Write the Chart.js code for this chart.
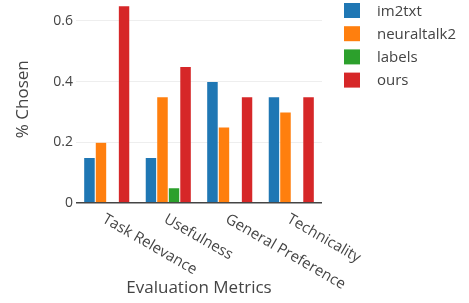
<!DOCTYPE html>
<html>
<head>
<meta charset="utf-8">
<script src="https://cdn.jsdelivr.net/npm/chart.js@4"></script>
<style>
  html, body { margin: 0; padding: 0; background: #fff; }
  #wrap { width: 469px; height: 303px; position: relative; overflow: hidden; }
  #chart { position: absolute; left: 0; top: -16px; }
</style>
</head>
<body>
<div id="wrap"><canvas id="chart" width="469" height="319"></canvas></div>
<script>
var categories = ["Task Relevance", "Usefulness", "General Preference", "Technicality"];
var seriesNames = ["im2txt", "neuraltalk2", "labels", "ours"];
var im2txt = [0.15, 0.15, 0.40, 0.35];
var neuraltalk2 = [0.20, 0.35, 0.25, 0.30];
var labels = [0, 0.05, 0, 0];
var ours = [0.65, 0.45, 0.35, 0.35];
var yTicks = [0, 0.2, 0.4, 0.6];
var colors = ["#1f77b4", "#ff7f0e", "#2ca02c", "#d62728"];

var FONT = "'Open Sans', Verdana, Arial, sans-serif";
var TEXT = "#444";
var SHIFT = 16; // canvas sits 16px above the page so the plot top is cut off like the original

// plotly-style rotated category labels, drawn from the x scale
var xLabels = {
    id: "xLabels",
    afterDraw: function (chart) {
        var ctx = chart.ctx;
        var x = chart.scales.x;
        ctx.save();
        ctx.fillStyle = TEXT;
        ctx.font = "15px " + FONT;
        ctx.textAlign = "left";
        ctx.textBaseline = "middle";
        x.ticks.forEach(function (t, i) {
            ctx.save();
            ctx.translate(x.getPixelForTick(i) - 3, x.top + 15);
            ctx.rotate(30 * Math.PI / 180);
            ctx.fillText(categories[i], 0, 0);
            ctx.restore();
        });
        ctx.restore();
    }
};

// legend at top right, plotly layout
var sideLegend = {
    id: "sideLegend",
    afterDraw: function (chart) {
        var ctx = chart.ctx;
        ctx.save();
        ctx.font = "15px " + FONT;
        ctx.textBaseline = "middle";
        chart.data.datasets.forEach(function (ds, i) {
            var cy = SHIFT + 10.5 + i * 23.2;
            ctx.fillStyle = ds.backgroundColor;
            ctx.fillRect(344, cy - 7.5, 16, 15);
            ctx.fillStyle = TEXT;
            ctx.fillText(ds.label, 377, cy + 1);
        });
        ctx.restore();
    }
};

var datasets = [im2txt, neuraltalk2, labels, ours].map(function (d, i) {
    return {
        label: seriesNames[i],
        data: d,
        backgroundColor: colors[i],
        borderColor: "rgba(255,255,255,0.35)",
        borderWidth: 0.5
    };
});

var chart = new Chart(document.getElementById("chart"), {
    type: "bar",
    data: {
        labels: categories,
        datasets: datasets
    },
    options: {
        responsive: false,
        animation: false,
        layout: {
            padding: { top: 0, right: 147, bottom: 0, left: 0 }
        },
        datasets: {
            bar: { categoryPercentage: 0.75, barPercentage: 1.0 }
        },
        scales: {
            x: {
                grid: { display: false, drawTicks: false },
                border: { display: false },
                ticks: { display: false },
                title: {
                    display: true,
                    text: "Evaluation Metrics",
                    color: TEXT,
                    font: { family: FONT, size: 17 },
                    padding: { top: 0, bottom: 5 }
                },
                afterFit: function (s) { s.height = 100; }
            },
            y: {
                min: 0,
                max: 0.684,
                afterBuildTicks: function (s) {
                    s.ticks = yTicks.map(function (v) { return { value: v }; });
                },
                grid: {
                    color: function (c) { return c.tick.value === 0 ? "#444" : "#eee"; },
                    lineWidth: function (c) { return c.tick.value === 0 ? 1.5 : 1; },
                    drawTicks: false
                },
                border: { display: false },
                ticks: {
                    color: TEXT,
                    padding: 3,
                    font: { family: FONT, size: 14 },
                    callback: function (v) { return v === 0 ? "0" : v.toFixed(1); }
                },
                title: {
                    display: true,
                    text: "% Chosen",
                    color: TEXT,
                    font: { family: FONT, size: 17 },
                    padding: { top: 13, bottom: 0 }
                },
                afterFit: function (s) { s.width = 76; }
            }
        },
        plugins: {
            legend: { display: false },
            tooltip: { enabled: false }
        }
    },
    plugins: [xLabels, sideLegend]
});
</script>
</body>
</html>
